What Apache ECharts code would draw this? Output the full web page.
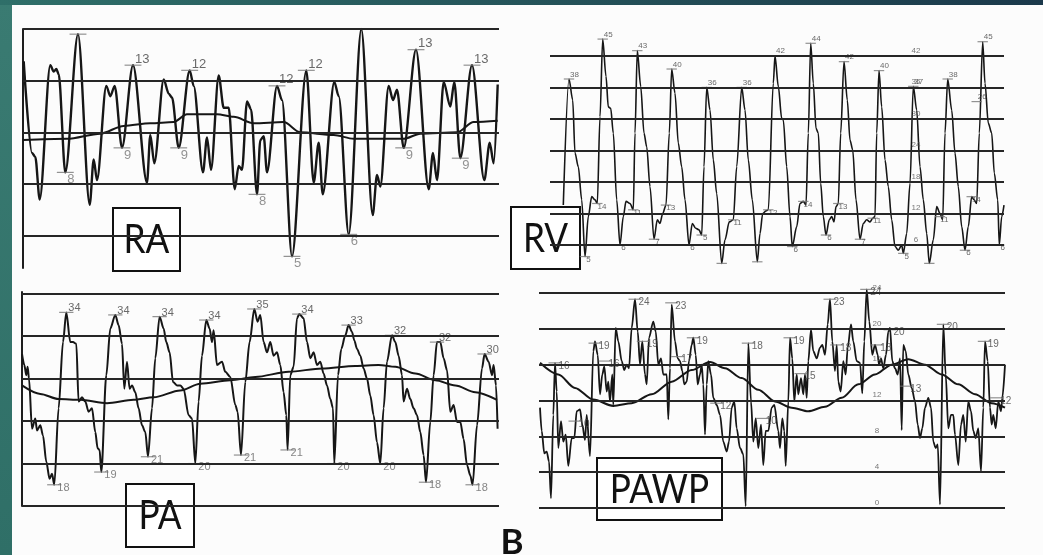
<!DOCTYPE html>
<html>
<head>
<meta charset="utf-8">
<title>RA RV PA PAWP</title>
<script src="https://cdn.jsdelivr.net/npm/echarts@6/dist/echarts.min.js"></script>
<style>
  html, body { margin: 0; padding: 0; background: #fcfcfc; }
  #chart { width: 1043px; height: 555px; }
</style>
</head>
<body>
<div id="chart"></div>
<script>
// x = time along the strip, y = pressure (mmHg scale of each strip)

// RA
const raTrace = [[0.7,13.5],[9,6.4],[12.3,6.1],[16.7,2.8],[27.3,13.2],[30.7,12.7],[33.3,12.9],[35.7,12.5],[42.3,4.9],[55,15.6],[66.7,2.4],[70.7,5.9],[74,4.3],[83.3,11.6],[87.3,10.8],[91.7,11.6],[99,6.8],[110,13.2],[124,4.1],[127.3,7.8],[131.3,5.6],[140.7,12.1],[145.7,11],[149,10.7],[155.7,6.8],[166.7,12.8],[170.7,11.6],[180,4.9],[184,7.6],[188,5.1],[195.7,12.4],[200.7,9.9],[205.7,9.9],[211.7,3.6],[215.7,5.4],[219,5.1],[224,10.4],[228,9.8],[234,3.2],[237.3,7.4],[240.7,7.7],[244,4.9],[254,11.6],[259,10.5],[269,-1.6],[283.3,12.8],[290.7,4.1],[295.7,7.2],[299.7,3.2],[311.3,11.9],[315.7,10.8],[325.7,0.1],[338.3,16],[349.7,1.6],[354,4.7],[357.3,3.8],[365.7,11.6],[370,10.5],[374,11.3],[380.7,6.8],[393,14.4],[405.7,3.6],[410,6.4],[414,4.3],[420.7,11.9],[427.3,10],[431.3,11.9],[437.3,6],[449,13.2],[461.3,4.3],[466.7,7.2],[470.7,5.6],[474.7,11.7]];
const raMean = [[0,7.4],[44,7.5],[77.3,7.9],[100.7,8.5],[127.3,8.7],[150.7,8.8],[164,9.4],[194,9.4],[210.7,9.2],[230.7,8.7],[260.7,8.8],[277.3,8],[310.7,7.8],[330.7,7.5],[347.3,7.5],[380.7,7.5],[397.3,7.9],[434,8],[450.7,8.8],[474.7,8.9]];
const raLines = [0, 4, 8, 12, 16];
const raPeaks = [[55,15.6,''],[110,13.2,'13'],[166.7,12.8,'12'],[254,11.6,'12'],[283.3,12.8,'12'],[393,14.4,'13'],[449,13.2,'13']];
const raTroughs = [[42.3,4.9,'8'],[99,6.8,'9'],[155.7,6.8,'9'],[234,3.2,'8'],[269,-1.6,'5'],[325.7,0.1,'6'],[380.7,6.8,'9'],[437.3,6,'9']];

// RV
const rvTrace = [[13.3,13.6],[19,37.6],[22.7,33.6],[25,23.5],[28.3,20.9],[31.7,14.6],[35,3.8],[38.3,11.4],[41.7,15.2],[45,14.6],[47.3,13.9],[50,30.4],[52.7,45.2],[56,38.1],[58.3,32.3],[60.7,32],[63.3,27.3],[66.7,14.6],[70,6],[73.3,11.4],[76,14.3],[80,13.9],[83.3,12.7],[85,27.3],[87.3,43],[90.7,36.2],[94,27.3],[96.7,24.7],[100,17.1],[104,7.1],[107.3,10.8],[110,10.1],[112.7,12],[116,13.6],[119.3,27.3],[121.7,39.5],[125,34.9],[128.3,25.4],[131.7,20.9],[135,14.6],[139,6],[142.3,10.1],[145.7,9.2],[149,8.9],[151.7,7.9],[154,20.9],[156.7,36],[160,31.7],[163.3,22.2],[166.7,15.8],[171.7,2.5],[175,7],[179.3,10.4],[183.3,10.8],[186.7,20.9],[191.7,36],[195,31.7],[198.3,22.2],[202.3,14.6],[207.3,2.8],[210,8.2],[212.7,12],[216,12.5],[218.3,12.7],[223.3,36.8],[225,42],[228.3,36.2],[231.7,30.1],[233.3,29.8],[236.7,20.9],[240,11.4],[242.3,5.7],[246.7,9.5],[250,13.9],[253.3,14.3],[256,13.6],[258.3,27.3],[260.7,44.4],[263.3,36.8],[266,28.2],[268.3,27.3],[270.7,17.7],[273.3,11.4],[276,7.9],[279.3,10.8],[281.7,11.4],[284,10.4],[286,13.3],[288.3,13.9],[290.7,27.3],[294,40.9],[297.3,33.6],[300,26],[302.7,24.1],[306,14.6],[310,7.1],[313.3,10.1],[316.7,10.8],[320,10.4],[322.7,11.1],[325,11.4],[326.7,27.3],[329,39.2],[331.7,32.3],[335,22.2],[338.3,17.1],[341.7,10.8],[345,5.7],[348.3,5],[351.7,6],[353.3,4.4],[356.7,8.2],[360,17.7],[363.3,36.2],[366.7,31.7],[370,20.9],[373.3,14.6],[376.7,8.2],[379.3,2.5],[383.3,7],[386.7,13.3],[390,12],[392.7,10.8],[395,27.3],[397.7,37.6],[401.7,31.7],[405,23.5],[408.3,17.1],[411.7,9.5],[415,5],[418.3,9.5],[421.7,15.2],[424,14.6],[426.7,13.9],[429.3,27.3],[432.7,44.7],[435,36.8],[438.3,29.2],[441.7,27.3],[444.3,19.7],[447.7,14.6],[449.3,6],[451.7,11.4],[454,13.6]];
const rvLines = [6, 12, 18, 24, 30, 36, 42];
const rvPeaks = [[19,37.6,'38'],[52.7,45.2,'45'],[87.3,43,'43'],[121.7,39.5,'40'],[156.7,36,'36'],[191.7,36,'36'],[225,42,'42'],[260.7,44.4,'44'],[294,40.9,'42'],[329,39.2,'40'],[363.3,36.2,'37'],[397.7,37.6,'38'],[432.7,44.7,'45'],[426.7,33.3,'26']];
const rvShoulders = [[47.3,13.9,'14'],[83.3,12.7,'11'],[116,13.6,'13'],[183.3,10.8,'11'],[218.3,12.7,'12'],[253.3,14.3,'14'],[288.3,13.9,'13'],[322.7,11.1,'11'],[390,11.4,'11'],[421.7,15.2,'14']];
const rvTroughs = [[35,3.8,'5'],[70,6,'6'],[104,7.1,'7'],[139,6,'6'],[151.7,7.9,'5'],[171.7,2.5,''],[207.3,2.8,''],[242.3,5.7,'6'],[276,7.9,'6'],[310,7.1,'7'],[353.3,4.4,'5'],[379.3,2.5,''],[415,5,'6'],[449.3,6,'6']];
const rvScale = [42, 36, 30, 24, 18, 12, 6];

// PA
const paTrace = [[0,32.9],[2.3,31.6],[4.3,30.4],[5.6,31.4],[7,30],[10,24.1],[13.3,25.3],[15,23.9],[18.3,24.5],[21,23.3],[24.3,20.2],[27.6,18.2],[30,18.8],[32.3,17.5],[36.6,26.5],[41,34.3],[44.3,37.8],[48.3,34.3],[51,34.3],[54.3,34.1],[56.6,27.3],[60,27.8],[63.3,27.3],[66.6,26.1],[70,26.5],[73.3,23.7],[75.6,21.8],[77.6,21.6],[79.3,19],[84.3,30.4],[88.3,35.9],[93.3,37.5],[96.6,36.3],[100,34.1],[102.3,28.8],[105,32],[107.6,28.8],[110,29.2],[113.3,28.4],[116.6,26.5],[120,24.5],[123.3,23.7],[126,20.8],[130,26.5],[133.3,32.4],[137.6,37.3],[141.6,35.9],[144.3,34.3],[147.6,33.1],[151,29.6],[155,29.2],[158.3,29.2],[161.6,28.8],[166.6,25.7],[170,25.3],[173.3,20],[176.6,27.3],[180,32.7],[184.3,36.9],[187.6,35.9],[190,34.3],[191.6,35.7],[195,31.6],[200,32],[203.3,30.8],[208.3,30.2],[213.3,26.9],[215.6,26.1],[219,21],[223.3,29.6],[227.6,34.3],[232.3,38.2],[235.6,36.7],[238.3,37.5],[241.6,34.3],[245,33.1],[248.3,34.3],[251.6,32.7],[255,33.1],[258.3,31.6],[261.6,28.4],[264.3,25.7],[265.6,21.6],[268.3,30.4],[271.6,31.4],[275,37.1],[277.3,37.6],[281.6,37.1],[285,34.3],[288.3,32.4],[291.6,33.1],[295,31.6],[298.3,32],[301.6,30.6],[305,29.2],[308.3,27.6],[311,26.5],[312.3,20],[316,30.4],[319.3,33.5],[323.3,35.1],[326.6,36.3],[330,35.5],[332.3,34.5],[335,33.5],[338.3,32.7],[341.6,31.2],[345,30],[348.3,28],[351.6,25.7],[355,22.5],[358.3,20],[361.6,26.5],[365,32],[370,35.1],[373.3,34.3],[376.6,32.7],[380,30.4],[381.6,27.3],[385,28.8],[388.3,27.6],[391.6,26.5],[395,25.7],[398.3,23.7],[401.6,21],[404,17.8],[408.3,24.9],[411.6,30.4],[415,34.3],[418.3,34.3],[421.6,32.4],[425,31],[428.3,26.1],[431.6,26.9],[435,24.9],[438.3,24.9],[441.6,22.9],[445,19.8],[448.3,18.6],[450.6,17.5],[455,24.5],[460,31.2],[462.6,32.9],[466.6,32],[470,30.4],[471.6,31.6],[474,29.2],[475.6,24.1]];
const paMean = [[0,29.2],[18.3,28.2],[36.6,27.6],[58.3,27.5],[85,27.1],[111.6,27.5],[131.6,27.8],[158.3,28.6],[178.3,29.4],[208.3,29.8],[233.3,30.2],[266.6,30.8],[300,31.2],[333.3,31.5],[356.6,31.6],[373.3,31.4],[393.3,30.6],[413.3,29.8],[433.3,29.2],[453.3,28.4],[475,27.5]];
const paLines = [15, 20, 25, 30, 35, 40];
const paPeaks = [[44.3,37.8,'34'],[93.3,37.5,'34'],[137.6,37.3,'34'],[184.3,36.9,'34'],[232.3,38.2,'35'],[277.3,37.6,'34'],[326.6,36.3,'33'],[370,35.1,'32'],[415,34.3,'32'],[462.6,32.9,'30']];
const paTroughs = [[32.3,17.5,'18'],[79.3,19,'19'],[126,20.8,'21'],[173.3,20,'20'],[219,21,'21'],[265.6,21.6,'21'],[312.3,20,'20'],[358.3,20,'20'],[404,17.8,'18'],[450.6,17.5,'18']];

// PAWP
const pawpTrace = [[1,11.2],[2.7,8.6],[5.3,6.1],[7.7,6.3],[10,5.2],[12,1.1],[14.3,10.4],[16,16.2],[17.7,13],[19.3,6.7],[22,9.7],[24.3,7.4],[26.7,8.2],[29.3,4.7],[32.7,7.8],[35.3,7.8],[37.7,10.8],[41,11],[43.3,9.3],[46,7.6],[47.7,10.4],[51,5.8],[54.3,17.5],[56,18.6],[58.7,17.1],[61,12.7],[63.3,14.9],[65.3,15.8],[67.7,13],[69.3,14.1],[71,11.9],[73.3,14.9],[74.3,11.5],[76.7,20.1],[79.3,18.6],[82.7,16.4],[85.3,15.4],[87.7,16],[90,15.6],[92.7,20.1],[96,23.3],[98.7,19.7],[101,16],[103.3,18.6],[106,14.9],[107.7,13.8],[110,19],[114.3,20.8],[116.7,19.7],[119.3,16],[122,16.7],[124.3,14.9],[127.7,14.9],[129.3,9.9],[131,15.6],[132.7,22.7],[136,18.6],[138.7,16.7],[141,16.4],[143.3,15.3],[145.3,13.8],[147.7,14.1],[150,16.4],[152.7,18.2],[154.3,19],[156.7,17.1],[158.7,13.8],[161,14.9],[162.7,16],[164.3,13.8],[166,8.2],[167.7,13.8],[169.3,16.4],[172,14.9],[174.3,12.3],[177.7,11.5],[181,10.4],[184.3,7.4],[187.7,6.3],[190,7.4],[192.7,11.2],[195.3,11.9],[197.7,8.9],[201,6.7],[204.3,6],[206.7,0.2],[209.3,18.4],[212,11.9],[214.3,7.4],[216.7,10],[219.3,6.7],[222,9.3],[224.3,4.8],[226.7,8.6],[229.3,8.6],[232.7,11.2],[235.3,11.5],[239.3,8.6],[241,6.7],[243.3,10],[245.3,8.6],[246.7,4.7],[249.3,11.9],[251,19],[253.3,16.7],[255.3,11.9],[257.7,14.9],[259.3,12.7],[262,14.5],[264.3,12.7],[266,14.9],[267.7,12.3],[269.3,16.4],[272,19.9],[274.3,17.5],[277.7,16.7],[281,17.9],[283.3,18.2],[286,17.1],[288.7,20.5],[291,23.3],[293.3,18.6],[296,15.3],[297.7,18.2],[299.3,14.1],[301.7,13],[304.3,16.4],[306.7,14.9],[308.7,17.9],[312,20.5],[314.3,18.6],[317.7,16.4],[321,16.2],[323.3,12.8],[325.3,18.6],[327.7,24.4],[330.3,20.8],[333.3,17.1],[336,18.2],[338.7,17.1],[340,16],[342,16.7],[344.3,15.6],[347,17.1],[349.3,19.7],[351,20.1],[353.3,16.4],[356,15.6],[358.7,14.9],[361,16.7],[362.7,8.7],[364.3,18.2],[366.7,17.5],[369.3,14.9],[372.7,13.4],[376,11.9],[378.7,9.3],[381,7.8],[383.3,8.9],[386,11.2],[389.3,12.3],[392,11.2],[394.3,7.4],[396.7,6.7],[398.7,7.1],[401,0.4],[404.3,20.5],[406.7,14.9],[409.3,8.9],[412,10.4],[414.3,10.4],[416,8.2],[419.3,4.8],[422,9.3],[424.3,10.4],[426.7,7.4],[429.3,11.9],[432,10.8],[434.3,8.6],[436.7,7.8],[439.3,8.9],[442,4.1],[444.3,11.2],[446,18.6],[448.7,16.4],[451,11.2],[452.7,9.3],[454.3,10.4],[456.7,8.9],[459.3,11.9],[462,10.8],[463.3,12.3],[466,16]];
const pawpMean = [[1,16.2],[19.3,14.9],[36,13.4],[54.3,12.1],[74.3,11.4],[92.7,11.7],[112.7,12.7],[132.7,14.1],[152.7,15.4],[171,16.3],[186,15.6],[202.7,14.5],[219.3,13.2],[236,11.9],[252.7,11.2],[269.3,10.8],[286,11.3],[302.7,12.3],[319.3,13.8],[336,14.9],[352.7,16],[369.3,16.6],[386,16],[402.7,14.9],[419.3,13.8],[436,12.7],[452.7,11.7],[466,11.2]];
const pawpLines = [0, 4, 8, 12, 16, 20, 24];
const pawpMarks = [[16,16.2,'16'],[36,9.7,'10'],[56,18.4,'19'],[66,16.4,'16'],[96,23.3,'24'],[104.3,18.6,'19'],[132.7,22.9,'23'],[138.7,16.9,'17'],[154.3,19,'19'],[177.7,11.7,'12'],[209.3,18.4,'18'],[223.3,10,'10'],[251,19,'19'],[262,15,'15'],[291,23.3,'23'],[297.7,18.2,'18'],[327.7,24.4,'24'],[337.7,18.2,'18'],[351,19.9,'20'],[367.7,13.6,'13'],[404.3,20.5,'20'],[445.3,18.6,'19'],[457.7,12.3,'12']];
const pawpScale = [24, 20, 16, 12, 8, 4, 0];

const chart = echarts.init(document.getElementById('chart'));

const FONT = 'Liberation Sans';

function trace(idx, data, width, lines, lineWidth) {
  const s = {
    type: 'line', xAxisIndex: idx, yAxisIndex: idx, data: data,
    symbol: 'none', showSymbol: false, smooth: 0.3, smoothMonotone: 'x',
    silent: true, z: 3,
    lineStyle: { color: '#161616', width: width }
  };
  if (lines) {
    s.markLine = {
      silent: true, symbol: ['none', 'none'], animation: false,
      label: { show: false },
      lineStyle: { color: '#262626', width: lineWidth, type: 'solid' },
      data: lines.map(v => ({ yAxis: v }))
    };
  }
  return s;
}

function marks(idx, pts, side, size, offset, color) {
  return {
    type: 'scatter', xAxisIndex: idx, yAxisIndex: idx, data: pts,
    symbol: 'rect', symbolSize: [size * 1.3, 1.2], silent: true, z: 4,
    itemStyle: { color: '#777' },
    label: {
      show: true, formatter: p => p.value[2], position: side, align: 'left',
      distance: 1, offset: offset, fontSize: size, color: color || '#444', fontFamily: FONT
    }
  };
}

function scaleText(idx, x, vals, size) {
  return {
    type: 'scatter', xAxisIndex: idx, yAxisIndex: idx,
    data: vals.map(v => [x, v, String(v)]),
    symbol: 'rect', symbolSize: [1, 1], silent: true, z: 4,
    itemStyle: { color: 'rgba(0,0,0,0)' },
    label: { show: true, formatter: p => p.value[2], position: 'top', distance: 1, fontSize: size, color: '#555', fontFamily: FONT }
  };
}

function box(label, x, y, w, h, sx) {
  return {
    type: 'group', z: 50,
    children: [
      { type: 'rect', shape: { x: x, y: y, width: w, height: h }, style: { fill: '#fff', stroke: '#111', lineWidth: 2 } },
      { type: 'text', x: x + w / 2, y: y + h / 2 + 1, scaleX: sx,
        style: { text: label, x: 0, y: 0, font: '40px Lato', fill: '#111', textAlign: 'center', textVerticalAlign: 'middle', align: 'center', verticalAlign: 'middle' } }
    ]
  };
}

const grids = [
  { left: 23, top: 29, width: 476, height: 239 },
  { left: 550, top: 27, width: 454, height: 239 },
  { left: 22, top: 292, width: 477, height: 214 },
  { left: 539, top: 284, width: 466, height: 233 }
];
const xMax = [476, 454, 477, 466];
const yRange = [[-2.5, 16], [2, 47.5], [15, 40.2], [-1, 25]];
const leftAxis = [true, false, true, false];

chart.setOption({
  backgroundColor: '#fcfcfc',
  animation: false,
  grid: grids.map(g => Object.assign({ outerBoundsMode: 'none' }, g)),
  xAxis: xMax.map((m, i) => ({
    type: 'value', gridIndex: i, min: 0, max: m, show: false
  })),
  yAxis: yRange.map((r, i) => ({
    type: 'value', gridIndex: i, min: r[0], max: r[1],
    axisLine: { show: leftAxis[i], onZero: false, lineStyle: { color: '#1e1e1e', width: 2 } },
    axisTick: { show: false }, axisLabel: { show: false }, splitLine: { show: false }
  })),
  series: [
    trace(0, raTrace, 2.4, raLines, 1.8),
    trace(0, raMean, 2),
    marks(0, raPeaks, 'top', 13, [2, 2]),
    marks(0, raTroughs, 'bottom', 13, [2, -1], '#777'),

    trace(1, rvTrace, 1.6, rvLines, 1.8),
    marks(1, rvPeaks, 'top', 8, [1, 1]),
    marks(1, rvShoulders, 'right', 8, [-6, 3]),
    marks(1, rvTroughs, 'right', 8, [-5, 3]),
    scaleText(1, 366, rvScale, 8),

    trace(2, paTrace, 2, paLines, 1.8),
    trace(2, paMean, 2),
    marks(2, paPeaks, 'top', 11, [2, 3]),
    marks(2, paTroughs, 'bottom', 11, [3, -4], '#666'),

    trace(3, pawpTrace, 1.8, pawpLines, 1.8),
    trace(3, pawpMean, 2),
    marks(3, pawpMarks, 'right', 10, [-4, 3]),
    scaleText(3, 338, pawpScale, 8)
  ],
  graphic: [
    { type: 'rect', z: 40, shape: { x: 0, y: 0, width: 12, height: 555 },
      style: { fill: new echarts.graphic.LinearGradient(0, 0, 0, 1, [{ offset: 0, color: '#3a7b72' }, { offset: 1, color: '#2f6f67' }]) } },
    { type: 'rect', z: 40, shape: { x: 0, y: 0, width: 1043, height: 5 },
      style: { fill: new echarts.graphic.LinearGradient(0, 0, 1, 0, [{ offset: 0, color: '#2f6f69' }, { offset: 1, color: '#1b394b' }]) } },
    box('RA', 113, 208, 67, 63, 0.88),
    box('RV', 511, 207, 69, 62, 0.88),
    box('PA', 126, 484, 68, 63, 0.88),
    box('PAWP', 597, 458, 125, 62, 0.88),
    { type: 'text', z: 50, x: 512, y: 560,
      style: { text: 'B', font: 'bold 35px Lato', fill: '#111', textAlign: 'center', textVerticalAlign: 'bottom', align: 'center', verticalAlign: 'bottom' } }
  ]
});
</script>
</body>
</html>
